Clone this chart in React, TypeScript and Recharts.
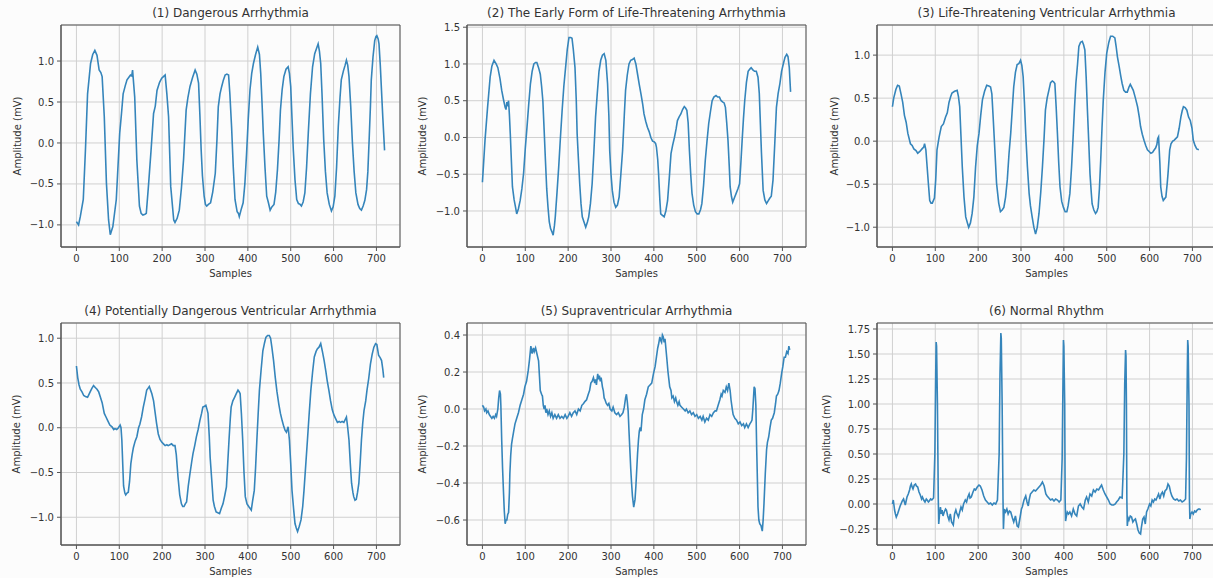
import { LineChart, Line, XAxis, YAxis, CartesianGrid, ReferenceArea } from "recharts";

// sample index -> amplitude (mV)
const dangerous: [number, number][] = [
  [0,-0.96],[5,-1.0],[9,-0.9],[16,-0.69],[21,-0.09],[26,0.6],[33,0.97],[38,1.08],[43,1.13],[48,1.07],[53,0.89],[57,0.86],[60,0.81],
  [65,0.32],[70,-0.49],[75,-0.94],[79,-1.12],[85,-1.02],[93,-0.69],[101,0.12],[105,0.35],[109,0.6],[114,0.7],[118,0.77],[122,0.8],
  [126,0.83],[129,0.82],[131,0.89],[136,0.56],[141,-0.21],[147,-0.77],[151,-0.86],[155,-0.88],[160,-0.87],[163,-0.86],[168,-0.53],
  [174,-0.1],[180,0.36],[184,0.45],[188,0.64],[194,0.74],[199,0.79],[203,0.81],[207,0.83],[211,0.6],[215,0.32],[220,-0.53],[227,-0.94],
  [230,-0.97],[235,-0.92],[240,-0.82],[245,-0.55],[250,-0.2],[256,0.4],[260,0.55],[265,0.69],[271,0.8],[277,0.89],[281,0.84],[285,0.73],
  [288,0.35],[291,-0.08],[294,-0.4],[298,-0.65],[301,-0.75],[304,-0.77],[308,-0.75],[313,-0.73],[318,-0.6],[324,-0.37],[328,0.05],
  [331,0.44],[335,0.6],[339,0.69],[343,0.77],[347,0.83],[351,0.84],[355,0.83],[358,0.6],[362,0.2],[366,-0.3],[370,-0.69],[375,-0.84],
  [378,-0.86],[380,-0.9],[384,-0.82],[389,-0.73],[393,-0.5],[397,-0.13],[401,0.3],[405,0.65],[409,0.85],[413,0.97],[418,1.08],[423,1.17],
  [427,1.08],[430,0.85],[433,0.5],[436,0.12],[440,-0.3],[444,-0.65],[448,-0.73],[452,-0.82],[456,-0.78],[461,-0.75],[465,-0.6],
  [469,-0.33],[473,0.05],[476,0.4],[480,0.65],[484,0.81],[489,0.9],[494,0.93],[497,0.85],[500,0.69],[503,0.3],[506,-0.08],[510,-0.45],
  [514,-0.69],[518,-0.74],[522,-0.75],[525,-0.77],[529,-0.72],[533,-0.61],[537,-0.3],[541,0.12],[546,0.6],[551,0.93],[556,1.09],
  [560,1.15],[564,1.21],[567,1.12],[570,0.97],[573,0.6],[577,0.04],[581,-0.35],[585,-0.61],[590,-0.75],[595,-0.83],[599,-0.78],
  [603,-0.65],[607,-0.3],[611,0.2],[615,0.55],[618,0.77],[623,0.88],[627,0.95],[630,1.01],[633,0.95],[636,0.81],[640,0.45],[644,0.0],
  [648,-0.35],[652,-0.61],[657,-0.75],[661,-0.8],[665,-0.82],[669,-0.77],[673,-0.7],[677,-0.57],[680,-0.35],[683,0.04],[686,0.45],
  [688,0.77],[692,1.05],[696,1.25],[699,1.3],[701,1.31],[704,1.27],[706,1.21],[709,0.95],[711,0.73],[715,0.3],[719,-0.09],
];

const earlyForm: [number, number][] = [
  [0,-0.61],[6,-0.04],[12,0.41],[18,0.82],[22,0.97],[27,1.05],[32,1.0],[36,0.95],[41,0.8],[45,0.64],[49,0.52],[53,0.41],[55,0.38],
  [57,0.48],[59,0.45],[61,0.5],[63,0.3],[65,0.05],[70,-0.67],[74,-0.85],[77,-0.94],[80,-1.04],[84,-0.97],[88,-0.86],[92,-0.7],
  [96,-0.49],[100,-0.15],[104,0.14],[108,0.45],[112,0.73],[116,0.9],[120,1.0],[124,1.02],[127,1.02],[131,0.95],[135,0.86],[138,0.7],
  [141,0.5],[144,0.1],[147,-0.31],[150,-0.7],[153,-0.95],[156,-1.15],[159,-1.24],[162,-1.28],[165,-1.33],[168,-1.2],[170,-1.08],
  [174,-0.75],[178,-0.4],[182,0.0],[186,0.37],[190,0.7],[194,0.95],[198,1.2],[202,1.36],[206,1.36],[209,1.35],[212,1.2],[216,0.95],
  [219,0.5],[221,0.05],[224,-0.3],[227,-0.63],[230,-0.9],[233,-1.08],[237,-1.15],[241,-1.22],[245,-1.15],[248,-1.08],[252,-0.9],
  [256,-0.63],[260,-0.2],[264,0.28],[268,0.6],[272,0.9],[276,1.05],[280,1.12],[284,1.14],[288,1.05],[292,0.73],[295,0.3],[297,-0.18],
  [300,-0.5],[303,-0.72],[307,-0.88],[311,-0.95],[315,-0.92],[319,-0.81],[323,-0.5],[327,-0.18],[331,0.3],[334,0.64],[338,0.85],
  [342,1.0],[346,1.05],[350,1.06],[354,1.08],[358,1.0],[362,0.86],[366,0.72],[370,0.59],[374,0.45],[377,0.32],[381,0.22],[385,0.14],
  [389,0.08],[393,0.0],[397,-0.05],[401,-0.06],[404,-0.08],[406,-0.13],[409,-0.3],[411,-0.49],[414,-0.85],[416,-1.04],[420,-1.06],
  [424,-1.08],[428,-1.0],[432,-0.86],[436,-0.55],[440,-0.22],[444,-0.1],[448,0.0],[452,0.12],[455,0.23],[459,0.28],[463,0.32],
  [467,0.38],[471,0.42],[474,0.4],[477,0.37],[480,0.2],[483,-0.18],[486,-0.5],[489,-0.76],[493,-0.92],[497,-1.01],[501,-1.04],
  [505,-1.04],[509,-0.98],[512,-0.9],[516,-0.65],[520,-0.31],[524,-0.05],[528,0.19],[532,0.35],[536,0.5],[540,0.55],[545,0.57],
  [549,0.55],[553,0.55],[557,0.5],[561,0.48],[564,0.47],[567,0.41],[570,0.2],[573,-0.04],[576,-0.4],[578,-0.67],[581,-0.8],[584,-0.88],
  [588,-0.82],[592,-0.76],[596,-0.7],[600,-0.63],[603,-0.35],[606,-0.04],[609,0.25],[612,0.5],[616,0.75],[620,0.9],[624,0.93],
  [627,0.95],[631,0.92],[635,0.9],[639,0.9],[643,0.82],[646,0.6],[648,0.28],[651,-0.2],[655,-0.72],[659,-0.85],[663,-0.9],[667,-0.86],
  [670,-0.83],[674,-0.8],[678,-0.58],[682,-0.1],[686,0.41],[690,0.6],[694,0.73],[698,0.9],[702,1.0],[706,1.09],[710,1.13],[713,1.1],
  [716,0.95],[719,0.62],
];

const lifeThreatening: [number, number][] = [
  [0,0.4],[3,0.5],[8,0.6],[12,0.65],[16,0.64],[20,0.55],[24,0.45],[28,0.3],[32,0.22],[36,0.09],[42,-0.03],[46,-0.05],[50,-0.09],
  [55,-0.11],[59,-0.14],[64,-0.12],[69,-0.09],[73,-0.07],[75,-0.03],[78,-0.1],[81,-0.3],[84,-0.5],[87,-0.69],[90,-0.72],[93,-0.72],
  [98,-0.66],[101,-0.45],[104,-0.1],[109,0.05],[114,0.17],[119,0.2],[124,0.28],[128,0.33],[132,0.45],[136,0.52],[139,0.56],[145,0.58],
  [151,0.59],[154,0.52],[157,0.4],[160,0.05],[163,-0.3],[167,-0.65],[171,-0.88],[175,-0.95],[178,-1.0],[182,-0.95],[186,-0.84],
  [190,-0.65],[194,-0.3],[198,-0.05],[202,0.09],[206,0.3],[210,0.48],[215,0.58],[220,0.65],[225,0.64],[229,0.63],[232,0.55],
  [235,0.28],[239,-0.1],[243,-0.49],[248,-0.72],[252,-0.82],[256,-0.8],[260,-0.77],[264,-0.65],[268,-0.45],[272,-0.15],[276,0.09],
  [280,0.4],[283,0.63],[287,0.8],[291,0.89],[295,0.9],[299,0.94],[302,0.88],[305,0.75],[308,0.45],[311,0.09],[315,-0.3],[319,-0.61],
  [322,-0.75],[326,-0.88],[330,-1.0],[334,-1.08],[338,-1.0],[342,-0.84],[346,-0.6],[350,-0.3],[354,0.05],[357,0.36],[361,0.5],
  [365,0.59],[369,0.68],[373,0.7],[376,0.69],[379,0.67],[382,0.4],[385,0.09],[388,-0.25],[391,-0.53],[395,-0.7],[399,-0.77],
  [403,-0.82],[407,-0.82],[410,-0.75],[414,-0.61],[418,-0.3],[422,0.09],[425,0.4],[428,0.67],[432,0.9],[435,1.1],[439,1.15],
  [443,1.16],[446,1.12],[449,1.06],[452,0.75],[455,0.36],[458,0.0],[461,-0.38],[464,-0.6],[466,-0.73],[470,-0.8],[474,-0.84],
  [477,-0.82],[480,-0.77],[483,-0.55],[486,-0.22],[489,0.15],[492,0.48],[496,0.8],[500,1.02],[505,1.15],[509,1.22],[514,1.22],
  [519,1.2],[522,1.1],[525,0.98],[529,0.87],[533,0.75],[536,0.67],[540,0.59],[544,0.57],[548,0.57],[552,0.63],[555,0.66],[558,0.63],
  [562,0.59],[567,0.5],[572,0.4],[576,0.28],[579,0.17],[583,0.08],[587,0.01],[591,-0.05],[595,-0.1],[599,-0.12],[603,-0.14],
  [607,-0.13],[611,-0.1],[614,-0.08],[617,-0.04],[619,0.03],[621,0.05],[624,-0.25],[626,-0.53],[629,-0.64],[632,-0.69],[635,-0.67],
  [638,-0.65],[641,-0.5],[643,-0.38],[647,-0.1],[650,-0.03],[654,0.0],[657,0.01],[661,0.03],[665,0.05],[669,0.15],[673,0.28],
  [676,0.35],[679,0.4],[683,0.39],[687,0.36],[691,0.28],[695,0.24],[699,0.15],[702,0.01],[706,-0.05],[710,-0.09],[715,-0.1],
];

const potentiallyDangerous: [number, number][] = [
  [0,0.69],[3,0.56],[6,0.48],[9,0.43],[13,0.4],[17,0.36],[21,0.35],[26,0.34],[29,0.37],[32,0.4],[36,0.44],[40,0.47],[44,0.45],
  [48,0.43],[52,0.4],[56,0.34],[60,0.28],[65,0.16],[69,0.12],[73,0.08],[78,0.03],[83,0.01],[87,-0.02],[90,-0.01],[94,-0.02],[98,0.0],
  [102,0.03],[104,0.0],[106,-0.14],[108,-0.4],[110,-0.65],[113,-0.73],[115,-0.75],[118,-0.73],[121,-0.72],[124,-0.6],[127,-0.4],
  [130,-0.3],[133,-0.22],[137,-0.15],[141,-0.1],[145,0.0],[148,0.04],[152,0.12],[156,0.23],[160,0.32],[164,0.42],[167,0.44],
  [170,0.46],[173,0.42],[176,0.38],[180,0.3],[183,0.19],[187,0.05],[191,-0.07],[195,-0.13],[199,-0.16],[203,-0.18],[207,-0.2],
  [211,-0.19],[214,-0.2],[218,-0.19],[222,-0.18],[226,-0.2],[230,-0.2],[233,-0.3],[237,-0.55],[241,-0.75],[245,-0.85],[248,-0.88],
  [251,-0.88],[254,-0.85],[257,-0.83],[261,-0.65],[265,-0.51],[269,-0.38],[272,-0.29],[276,-0.2],[280,-0.1],[284,-0.02],[288,0.08],
  [292,0.16],[295,0.23],[299,0.24],[302,0.25],[305,0.2],[307,0.16],[310,-0.1],[312,-0.33],[316,-0.6],[319,-0.81],[322,-0.88],
  [326,-0.94],[330,-0.95],[334,-0.96],[338,-0.9],[342,-0.85],[346,-0.76],[350,-0.66],[353,-0.4],[356,-0.14],[359,0.1],[361,0.23],
  [365,0.3],[369,0.34],[373,0.38],[377,0.42],[380,0.4],[382,0.38],[385,0.15],[388,-0.14],[391,-0.5],[394,-0.77],[398,-0.85],
  [402,-0.88],[405,-0.9],[408,-0.92],[411,-0.82],[415,-0.7],[418,-0.45],[421,-0.14],[424,0.15],[427,0.42],[431,0.65],[435,0.86],
  [439,0.95],[442,1.01],[446,1.03],[450,1.03],[453,1.0],[456,0.9],[460,0.75],[464,0.56],[468,0.4],[472,0.27],[476,0.16],[480,0.08],
  [484,0.01],[487,-0.03],[490,-0.05],[494,0.01],[497,-0.14],[500,-0.4],[503,-0.7],[507,-0.92],[510,-1.07],[513,-1.12],[516,-1.16],
  [520,-1.1],[524,-1.03],[528,-0.88],[531,-0.7],[535,-0.42],[539,-0.14],[543,0.15],[547,0.42],[551,0.62],[555,0.79],[559,0.85],
  [562,0.88],[566,0.9],[570,0.94],[574,0.85],[578,0.75],[582,0.63],[585,0.53],[589,0.42],[593,0.3],[597,0.2],[601,0.14],[605,0.1],
  [609,0.06],[613,0.07],[616,0.06],[620,0.07],[624,0.06],[628,0.1],[630,0.12],[633,0.0],[636,-0.14],[639,-0.4],[642,-0.62],
  [645,-0.72],[647,-0.77],[650,-0.81],[653,-0.8],[656,-0.72],[659,-0.62],[662,-0.4],[665,-0.14],[668,0.05],[671,0.19],[675,0.3],
  [678,0.42],[682,0.55],[686,0.71],[690,0.82],[694,0.9],[698,0.94],[701,0.93],[705,0.81],[709,0.78],[712,0.75],[715,0.65],[717,0.56],
];

const supraventricular: [number, number][] = [
  [0,0.02],[3,0.01],[5,-0.01],[8,0.0],[10,-0.02],[13,-0.01],[16,-0.03],[19,-0.04],[22,-0.05],[25,-0.04],[28,-0.05],[31,-0.03],
  [33,-0.04],[36,0.0],[38,0.06],[40,0.1],[42,0.08],[43,0.02],[45,-0.17],[47,-0.32],[49,-0.44],[51,-0.55],[53,-0.62],[55,-0.6],
  [57,-0.6],[59,-0.57],[61,-0.56],[63,-0.45],[64,-0.35],[66,-0.25],[68,-0.19],[70,-0.16],[73,-0.12],[76,-0.08],[80,-0.05],[84,-0.02],
  [88,0.02],[92,0.05],[96,0.08],[99,0.12],[103,0.15],[107,0.21],[110,0.27],[113,0.34],[116,0.3],[119,0.33],[121,0.31],[124,0.33],
  [127,0.3],[131,0.26],[133,0.18],[135,0.1],[138,0.08],[140,0.07],[142,0.02],[144,0.0],[146,0.02],[148,-0.02],[150,0.0],[153,-0.03],
  [156,-0.01],[159,-0.04],[162,-0.02],[165,-0.05],[169,-0.03],[173,-0.05],[177,-0.03],[181,-0.05],[185,-0.04],[189,-0.05],
  [193,-0.03],[197,-0.05],[200,-0.04],[204,-0.02],[208,-0.04],[212,-0.02],[216,-0.01],[220,-0.03],[224,0.0],[228,-0.01],[232,0.02],
  [236,0.03],[239,0.04],[243,0.05],[247,0.08],[250,0.1],[253,0.14],[256,0.15],[259,0.17],[262,0.14],[264,0.16],[266,0.13],[269,0.19],
  [271,0.16],[273,0.18],[275,0.15],[277,0.17],[280,0.12],[282,0.1],[284,0.06],[286,0.05],[289,0.03],[292,0.02],[295,0.03],[298,0.0],
  [302,-0.01],[305,0.01],[309,-0.02],[313,-0.03],[317,-0.02],[321,-0.04],[325,-0.03],[328,-0.02],[331,0.01],[334,0.06],[336,0.08],
  [338,0.04],[340,-0.01],[342,-0.12],[344,-0.22],[346,-0.32],[348,-0.4],[350,-0.47],[353,-0.53],[356,-0.49],[358,-0.42],[360,-0.33],
  [362,-0.24],[364,-0.17],[366,-0.12],[368,-0.1],[370,-0.12],[373,-0.03],[376,0.0],[379,0.05],[383,0.08],[387,0.12],[391,0.13],
  [395,0.14],[399,0.19],[403,0.23],[406,0.28],[409,0.33],[411,0.35],[414,0.39],[416,0.37],[418,0.36],[420,0.4],[422,0.39],[424,0.36],
  [426,0.38],[428,0.33],[430,0.28],[433,0.2],[435,0.16],[437,0.12],[440,0.1],[442,0.06],[445,0.07],[448,0.04],[451,0.06],[453,0.04],
  [456,0.02],[459,0.04],[461,0.02],[465,0.01],[469,0.0],[473,-0.01],[476,0.0],[480,-0.02],[484,-0.01],[488,-0.03],[492,-0.02],
  [496,-0.04],[500,-0.03],[504,-0.05],[508,-0.04],[512,-0.06],[515,-0.04],[519,-0.07],[523,-0.05],[527,-0.06],[531,-0.03],
  [535,-0.04],[539,-0.02],[543,-0.01],[546,-0.01],[550,0.02],[554,0.05],[557,0.08],[559,0.07],[562,0.1],[566,0.09],[569,0.12],
  [572,0.1],[575,0.14],[578,0.1],[580,0.05],[583,0.0],[585,-0.03],[589,-0.05],[593,-0.06],[597,-0.08],[601,-0.07],[605,-0.09],
  [609,-0.08],[612,-0.1],[616,-0.08],[620,-0.1],[624,-0.08],[627,-0.07],[629,-0.06],[631,0.0],[634,0.12],[636,0.11],[638,0.02],
  [640,-0.22],[642,-0.42],[643,-0.53],[645,-0.6],[647,-0.62],[650,-0.63],[653,-0.66],[655,-0.6],[657,-0.51],[660,-0.35],[663,-0.22],
  [665,-0.18],[668,-0.15],[671,-0.1],[674,-0.06],[677,-0.05],[681,-0.02],[684,0.03],[686,0.07],[689,0.08],[692,0.1],[695,0.14],
  [698,0.19],[701,0.23],[704,0.28],[707,0.28],[710,0.31],[713,0.3],[715,0.34],[717,0.32],
];

const normal: [number, number][] = [
  [0,0.0],[2,0.04],[5,-0.06],[7,-0.1],[9,-0.13],[12,-0.1],[15,-0.06],[18,-0.02],[20,0.0],[23,0.03],[26,0.05],[28,0.02],[30,-0.01],
  [32,0.03],[34,0.07],[37,0.1],[40,0.14],[42,0.18],[44,0.2],[46,0.17],[48,0.15],[51,0.19],[54,0.2],[56,0.18],[59,0.17],[62,0.12],
  [65,0.09],[68,0.05],[70,0.07],[73,0.04],[76,0.02],[79,0.05],[81,0.04],[84,0.02],[86,0.03],[89,0.05],[92,0.04],[96,0.06],[99,0.5],
  [101,1.3],[102,1.62],[103,1.58],[105,1.0],[107,0.05],[108,-0.2],[110,-0.1],[112,-0.03],[114,-0.1],[116,-0.06],[118,-0.12],[121,-0.08],
  [124,-0.05],[126,-0.06],[129,-0.12],[132,-0.16],[135,-0.1],[138,-0.18],[142,-0.21],[145,-0.1],[148,-0.06],[150,-0.09],[154,-0.13],
  [157,-0.08],[160,-0.03],[163,-0.06],[166,0.0],[170,0.04],[173,0.02],[176,0.07],[179,0.1],[181,0.06],[184,0.07],[188,0.12],
  [191,0.15],[194,0.14],[198,0.17],[202,0.19],[205,0.18],[209,0.14],[213,0.08],[217,0.04],[221,0.02],[225,0.0],[229,0.01],[233,-0.01],
  [237,0.01],[241,0.0],[245,0.04],[249,0.5],[251,1.3],[253,1.71],[254,1.66],[256,1.0],[258,0.05],[259,-0.25],[261,-0.05],[264,-0.08],
  [267,-0.05],[270,-0.1],[273,-0.07],[276,-0.08],[280,-0.14],[283,-0.18],[287,-0.12],[291,-0.22],[294,-0.23],[298,-0.13],[301,-0.05],
  [303,-0.03],[307,0.04],[311,0.08],[314,0.02],[317,-0.02],[319,0.04],[322,0.1],[326,0.12],[330,0.14],[334,0.13],[338,0.15],
  [342,0.17],[346,0.19],[350,0.22],[354,0.18],[358,0.1],[361,0.08],[365,0.06],[369,0.04],[373,0.05],[377,0.03],[381,0.05],
  [385,0.04],[389,0.02],[393,0.04],[396,0.45],[398,1.25],[399,1.64],[400,1.58],[402,1.0],[403,0.05],[404,-0.17],[406,-0.12],
  [408,-0.08],[411,-0.1],[414,-0.08],[418,-0.12],[422,-0.05],[426,-0.1],[430,-0.12],[434,-0.02],[438,0.0],[442,-0.03],[446,-0.05],
  [450,0.04],[453,0.07],[457,0.02],[461,0.1],[465,0.08],[469,0.14],[473,0.12],[477,0.15],[481,0.14],[485,0.17],[488,0.19],[492,0.14],
  [496,0.1],[500,0.07],[504,0.04],[508,0.0],[512,-0.01],[516,-0.01],[520,0.0],[523,0.02],[527,0.04],[531,0.07],[536,0.06],[540,0.5],
  [542,1.2],[544,1.54],[545,1.48],[546,1.0],[547,0.05],[548,-0.22],[550,-0.14],[552,-0.16],[555,-0.12],[558,-0.13],[561,-0.18],
  [564,-0.16],[567,-0.15],[570,-0.2],[573,-0.26],[576,-0.29],[579,-0.3],[581,-0.23],[584,-0.15],[587,-0.13],[590,-0.2],[593,-0.08],
  [596,-0.05],[600,0.0],[603,-0.02],[606,0.04],[609,0.02],[612,0.05],[615,0.04],[618,0.07],[621,0.1],[624,0.05],[627,0.1],[630,0.12],
  [633,0.08],[636,0.13],[640,0.15],[643,0.2],[646,0.18],[649,0.12],[652,0.08],[656,0.05],[660,0.04],[664,0.05],[668,0.03],[672,0.04],
  [676,0.02],[680,0.03],[684,0.05],[686,0.45],[688,1.3],[689,1.64],[690,1.58],[692,1.0],[693,0.05],[694,-0.15],[696,-0.1],[699,-0.08],
  [702,-0.1],[705,-0.07],[708,-0.08],[711,-0.06],[714,-0.05],[717,-0.05],[719,-0.06],
];

const titles = [
  "(1) Dangerous Arrhythmia",
  "(2) The Early Form of Life-Threatening Arrhythmia",
  "(3) Life-Threatening Ventricular Arrhythmia",
  "(4) Potentially Dangerous Ventricular Arrhythmia",
  "(5) Supraventricular Arrhythmia",
  "(6) Normal Rhythm",
];

const xTicks = [0, 100, 200, 300, 400, 500, 600, 700];
const ticksOne = [-1, -0.5, 0, 0.5, 1];
const ticksTwo = [-1, -0.5, 0, 0.5, 1, 1.5];
const ticksFive = [-0.6, -0.4, -0.2, 0, 0.2, 0.4];
const ticksSix = [-0.25, 0, 0.25, 0.5, 0.75, 1, 1.25, 1.5, 1.75];

const X_DOMAIN: [number, number] = [-36, 755];
const PLOT_W = 339;
const PLOT_H = 222;
const AXIS_W = 60;
const PAD = 4;
const FONT = "'DejaVu Sans', sans-serif";
const TEXT = "#333";
const LINE = "#3585bb";
const FRAME = "#555";

const panels = [
  { series: dangerous, domain: [-1.27, 1.44], ticks: ticksOne, digits: 1, left: 61, top: 25, labelGap: 43 },
  { series: earlyForm, domain: [-1.49, 1.53], ticks: ticksTwo, digits: 1, left: 467, top: 25, labelGap: 44 },
  { series: lifeThreatening, domain: [-1.23, 1.35], ticks: ticksOne, digits: 1, left: 877, top: 25, labelGap: 42 },
  { series: potentiallyDangerous, domain: [-1.31, 1.17], ticks: ticksOne, digits: 1, left: 61, top: 323, labelGap: 44 },
  { series: supraventricular, domain: [-0.735, 0.465], ticks: ticksFive, digits: 1, left: 467, top: 323, labelGap: 44 },
  { series: normal, domain: [-0.41, 1.81], ticks: ticksSix, digits: 2, left: 877, top: 323, labelGap: 50 },
];

const fmt = (digits: number) => (v: number) => {
  const s = Math.abs(v).toFixed(digits);
  return v < 0 ? "\u2212" + s : s;
};

function Panel({ index }: { index: number }) {
  const p = panels[index];
  const data = p.series.map(([s, v]) => ({ s, v }));
  const width = AXIS_W + PLOT_W + 10;
  const height = PAD + PLOT_H + 40;
  const tick = { fontSize: 10, fill: TEXT, fontFamily: FONT };

  return (
    <>
      <div
        style={{
          position: "absolute",
          left: p.left,
          width: PLOT_W,
          top: p.top - 19,
          textAlign: "center",
          fontSize: 12,
          lineHeight: "14px",
          color: TEXT,
          whiteSpace: "nowrap",
        }}
      >
        {titles[index]}
      </div>
      <div
        style={{
          position: "absolute",
          left: p.left - p.labelGap - 60,
          top: p.top + PLOT_H / 2 - 7,
          width: 120,
          textAlign: "center",
          fontSize: 10,
          lineHeight: "14px",
          color: TEXT,
          transform: "rotate(-90deg)",
        }}
      >
        Amplitude (mV)
      </div>
      <div
        style={{
          position: "absolute",
          left: p.left,
          width: PLOT_W,
          top: p.top + PLOT_H + 20,
          textAlign: "center",
          fontSize: 10,
          lineHeight: "14px",
          color: TEXT,
        }}
      >
        Samples
      </div>
      <div style={{ position: "absolute", left: p.left - AXIS_W, top: p.top - PAD }}>
        <LineChart width={width} height={height} data={data} margin={{ top: PAD, right: 10, bottom: 0, left: 0 }}>
          <CartesianGrid stroke="#d0d0d0" strokeWidth={1} />
          <XAxis
            dataKey="s"
            type="number"
            domain={X_DOMAIN}
            ticks={xTicks}
            height={40}
            tickSize={4}
            tickMargin={4}
            tick={tick}
            stroke={FRAME}
            tickLine={{ stroke: FRAME }}
          />
          <YAxis
            type="number"
            domain={p.domain}
            ticks={p.ticks}
            width={AXIS_W}
            tickSize={4}
            tickMargin={3}
            tick={tick}
            tickFormatter={fmt(p.digits)}
            stroke={FRAME}
            tickLine={{ stroke: FRAME }}
            allowDataOverflow
          />
          <ReferenceArea
            x1={X_DOMAIN[0]}
            x2={X_DOMAIN[1]}
            y1={p.domain[0]}
            y2={p.domain[1]}
            fill="none"
            stroke={FRAME}
            strokeWidth={1}
            ifOverflow="visible"
          />
          <Line
            type="linear"
            dataKey="v"
            stroke={LINE}
            strokeWidth={1.6}
            dot={false}
            isAnimationActive={false}
          />
        </LineChart>
      </div>
    </>
  );
}

export default function App() {
  return (
    <div
      style={{
        position: "fixed",
        left: 0,
        top: 0,
        width: 1213,
        height: 578,
        overflow: "hidden",
        background: "#fcfcfc",
        fontFamily: FONT,
      }}
    >
      {panels.map((_, i) => (
        <Panel key={i} index={i} />
      ))}
    </div>
  );
}
